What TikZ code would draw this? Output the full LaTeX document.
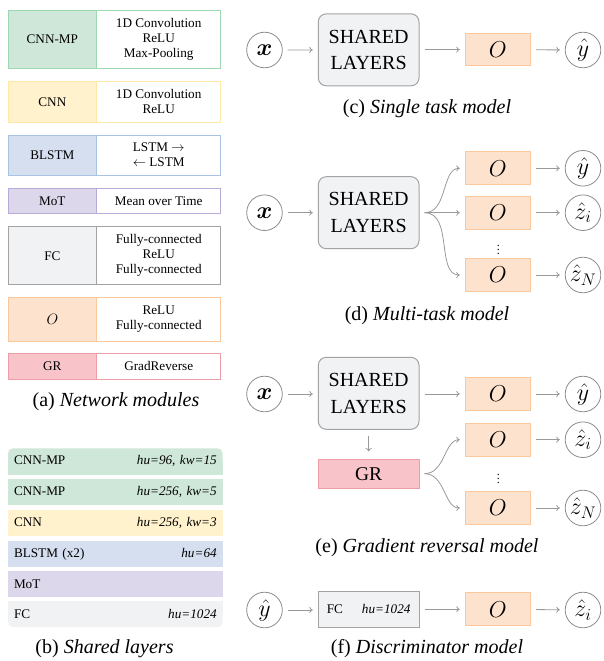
\RequirePackage{fix-cm}
\documentclass[tikz,border=0pt]{standalone}
\usepackage{amsmath}
\usepackage{fontspec}
\setmainfont{Liberation Serif}
\usetikzlibrary{arrows.meta}
\definecolor{gfill}{HTML}{CFE7D8}\definecolor{gline}{HTML}{9ED8B2}
\definecolor{yfill}{HTML}{FFF2CC}\definecolor{yline}{HTML}{FFE8A6}
\definecolor{bfill}{HTML}{D5DFF0}\definecolor{bline}{HTML}{A9C1E3}
\definecolor{pfill}{HTML}{DDD7EB}\definecolor{pline}{HTML}{B9ABD9}
\definecolor{cfill}{HTML}{F1F2F4}\definecolor{cline}{HTML}{A3A3A3}
\definecolor{ofill}{HTML}{FDE2CD}\definecolor{oline}{HTML}{FBC89E}
\definecolor{rfill}{HTML}{F8C4C9}\definecolor{rline}{HTML}{EE9EA7}
\definecolor{arrc}{HTML}{999999}\definecolor{circc}{HTML}{8C8C8C}
\tikzset{
 arr/.style={draw=arrc, line width=0.8pt, -{To[length=3.5pt,width=6pt]}, shorten <=5pt, shorten >=5pt},
 circ/.style={circle, draw=circc, line width=0.8pt, fill=white, minimum size=35.6pt, inner sep=0pt, font=\fontsize{24}{28}\selectfont},
 shbox/.style={rectangle, rounded corners=8pt, draw=cline, fill=cfill, line width=1pt, minimum width=100.7pt, minimum height=72pt, align=center, font=\fontsize{20}{26.7}\selectfont},
 obox/.style={rectangle, draw=oline, fill=ofill, line width=1pt, minimum width=65pt, minimum height=32.7pt, inner sep=0pt, font=\fontsize{23}{26}\selectfont},
 captext/.style={font=\fontsize{20}{24}\selectfont, inner sep=0pt, anchor=base},
 modl/.style={rectangle, line width=1pt, minimum width=88.7pt, inner sep=0pt, font=\fontsize{13.2}{15}\selectfont},
 modr/.style={rectangle, line width=1pt, minimum width=124pt, inner sep=0pt, align=center, fill=white, font=\fontsize{13.2}{15}\selectfont},
 srow/.style={rectangle, minimum height=26pt, text width=202.7pt, inner xsep=6pt, inner ysep=0pt, font=\fontsize{13.2}{15}\selectfont},
 vdotsnode/.style={inner sep=0pt, font=\fontsize{12}{12}\selectfont},
}
\begin{document}
\begin{tikzpicture}[x=1pt,y=-1pt]
\useasboundingbox (0,0) rectangle (603,661);
% ---------- (a) Network modules ----------
\node[modl, fill=gfill, draw=gline, minimum height=58.4pt] (m1l) at (52.35,39.5) {CNN-MP};
\node[modr, draw=gline, minimum height=58.4pt] (m1r) at (158.7,39.5) {1D Convolution\\ReLU\\Max-Pooling};
\node[modl, fill=yfill, draw=yline, minimum height=41pt] (m2l) at (52.35,101.8) {CNN};
\node[modr, draw=yline, minimum height=41pt] (m2r) at (158.7,101.8) {1D Convolution\\ReLU};
\node[modl, fill=bfill, draw=bline, minimum height=40pt] (m3l) at (52.35,155) {BLSTM};
\node[modr, draw=bline, minimum height=40pt] (m3r) at (158.7,155) {LSTM $\rightarrow$\\$\leftarrow$ LSTM};
\node[modl, fill=pfill, draw=pline, minimum height=25.7pt] (m4l) at (52.35,200.85) {MoT};
\node[modr, draw=pline, minimum height=25.7pt] (m4r) at (158.7,200.85) {Mean over Time};
\node[modl, fill=cfill, draw=cline, minimum height=58pt] (m5l) at (52.35,255.7) {FC};
\node[modr, draw=cline, minimum height=58pt] (m5r) at (158.7,255.7) {Fully-connected\\ReLU\\Fully-connected};
\node[modl, fill=ofill, draw=oline, minimum height=43.3pt] (m6l) at (52.35,319.35) {\fontsize{15}{16}\selectfont$O$};
\node[modr, draw=oline, minimum height=43.3pt] (m6r) at (158.7,319.35) {ReLU\\Fully-connected};
\node[modl, fill=rfill, draw=rline, minimum height=26pt] (m7l) at (52.35,366.3) {GR};
\node[modr, draw=rline, minimum height=26pt] (m7r) at (158.7,366.3) {GradReverse};
\node[captext] (capa) at (116,406.7) {(a) \textit{Network modules}};
% ---------- (b) Shared layers ----------
\node[srow, fill=gfill, rounded corners=5pt] (s1) at (115.35,461.3) {};
\fill[gfill] (s1.west) rectangle (s1.south east);
\node[srow] (s1t) at (s1.center) {CNN-MP\hfill\textit{hu=96, kw=15}};
\node[srow, fill=gfill] (s2) at (115.35,492) {CNN-MP\hfill\textit{hu=256, kw=5}};
\node[srow, fill=yfill] (s3) at (115.35,522.6) {CNN\hfill\textit{hu=256, kw=3}};
\node[srow, fill=bfill] (s4) at (115.35,554.1) {BLSTM (x2)\hfill\textit{hu=64}};
\node[srow, fill=pfill] (s5) at (115.35,584.2) {MoT};
\node[srow, fill=cfill, rounded corners=5pt] (s6) at (115.35,614.2) {};
\fill[cfill] (s6.north west) rectangle (s6.east);
\node[srow] (s6t) at (s6.center) {FC\hfill\textit{hu=1024}};
\node[captext] (capb) at (104.5,653) {(b) \textit{Shared layers}};
% ---------- (c) Single task model ----------
\node[circ] (xc) at (264.5,50) {$\boldsymbol{x}$};
\node[shbox] (shc) at (368.65,49.85) {SHARED\\LAYERS};
\node[obox] (oc) at (497.8,49.65) {$O$};
\node[circ] (yc) at (583,50) {$\hat{y}$};
\draw[arr] (xc) -- (shc);
\draw[arr] (shc.east |- oc) -- (oc);
\draw[arr] (oc) -- (yc);
\node[captext] (capc) at (427,113) {(c) \textit{Single task model}};
% ---------- (d) Multi-task model ----------
\node[circ] (xd) at (264.5,212.7) {$\boldsymbol{x}$};
\node[shbox] (shd) at (368.65,212.7) {SHARED\\LAYERS};
\node[obox] (od1) at (497.8,168.3) {$O$};
\node[obox] (od2) at (497.8,212.7) {$O$};
\node[obox] (od3) at (497.8,275) {$O$};
\node[vdotsnode] (vd) at (498.3,247.3) {$\vdots$};
\node[circ] (yd1) at (583,168.3) {$\hat{y}$};
\node[circ] (zd2) at (583,212.7) {$\hat{z}_i$};
\node[circ] (zd3) at (583,275) {$\hat{z}_N$};
\coordinate (fd) at ([xshift=5pt]shd.east);
\draw[arr] (xd) -- (shd);
\draw[arr, shorten <=0pt] (fd) to[out=0,in=180] (od1.west);
\draw[arr, shorten <=0pt] (fd) -- (od2.west);
\draw[arr, shorten <=0pt] (fd) to[out=0,in=180] (od3.west);
\draw[arr] (od1) -- (yd1);
\draw[arr] (od2) -- (zd2);
\draw[arr] (od3) -- (zd3);
\node[captext] (capd) at (427,320) {(d) \textit{Multi-task model}};
% ---------- (e) Gradient reversal model ----------
\node[circ] (xe) at (264.5,394) {$\boldsymbol{x}$};
\node[shbox] (she) at (368.65,393.3) {SHARED\\LAYERS};
\node[rectangle, draw=rline, fill=rfill, line width=1pt, minimum width=100.7pt, minimum height=29.3pt, font=\fontsize{19.5}{24}\selectfont] (gr) at (368.65,473.65) {GR};
\node[obox] (oe1) at (497.8,394) {$O$};
\node[obox] (oe2) at (497.8,439.7) {$O$};
\node[obox] (oe3) at (497.8,508) {$O$};
\node[vdotsnode] (ve) at (498.3,476) {$\vdots$};
\node[circ] (ye1) at (583,394) {$\hat{y}$};
\node[circ] (ze2) at (583,439.7) {$\hat{z}_i$};
\node[circ] (ze3) at (583,508) {$\hat{z}_N$};
\coordinate (fe) at ([xshift=5pt]gr.east);
\draw[arr] (xe) -- (she.west |- xe);
\draw[arr] (she.east |- oe1) -- (oe1);
\draw[arr, shorten <=6.5pt, shorten >=7pt] (she) -- (gr);
\draw[arr, shorten <=0pt] (fe) to[out=0,in=180] (oe2.west);
\draw[arr, shorten <=0pt] (fe) to[out=0,in=180] (oe3.west);
\draw[arr] (oe1) -- (ye1);
\draw[arr] (oe2) -- (ze2);
\draw[arr] (oe3) -- (ze3);
\node[captext] (cape) at (427,552) {(e) \textit{Gradient reversal model}};
% ---------- (f) Discriminator model ----------
\node[circ] (yf) at (264.5,610) {$\hat{y}$};
\node[rectangle, draw=cline, fill=cfill, line width=1pt, minimum height=36.7pt, text width=83.7pt, inner xsep=8.5pt, inner ysep=0pt, font=\fontsize{13.2}{15}\selectfont] (fcf) at (368.65,609.35) {FC\hfill\textit{hu=1024}};
\node[obox] (of) at (497.8,609.2) {$O$};
\node[circ] (zf) at (583,610) {$\hat{z}_i$};
\draw[arr] (yf) -- (fcf.west |- yf);
\draw[arr] (fcf.east |- of) -- (of);
\draw[arr] (of) -- (zf);
\node[captext] (capf) at (427,653.3) {(f) \textit{Discriminator model}};
\end{tikzpicture}
\end{document}
